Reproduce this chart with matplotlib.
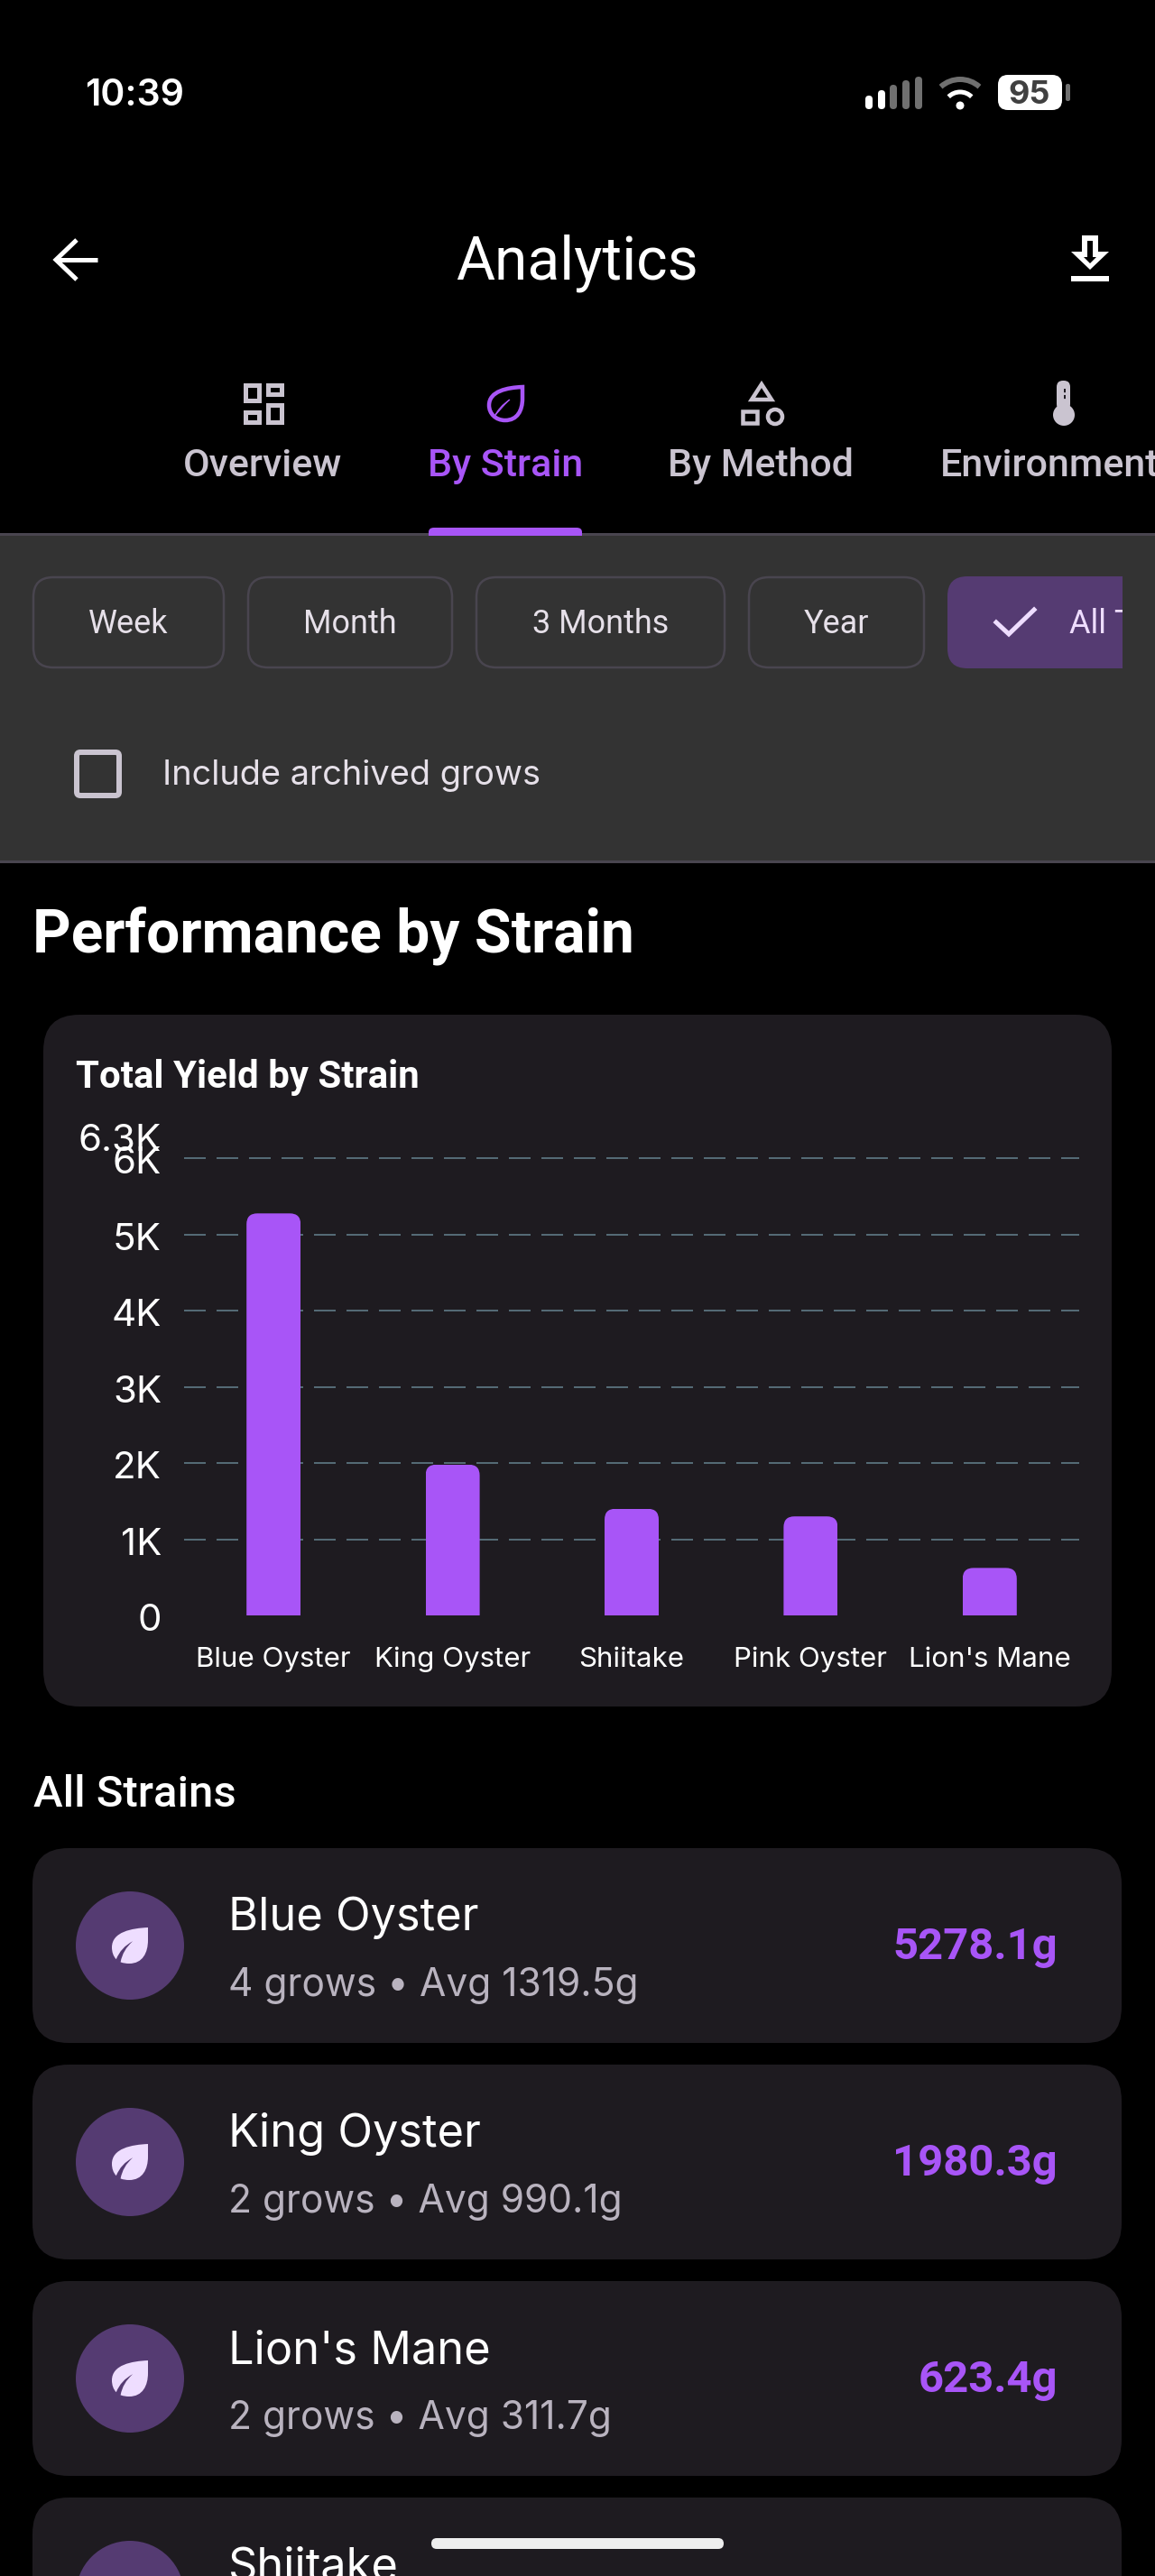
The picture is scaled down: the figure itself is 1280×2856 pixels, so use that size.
import matplotlib
matplotlib.use("Agg")
import matplotlib.pyplot as plt
from matplotlib.patches import FancyBboxPatch, Rectangle, Circle, Arc, Polygon, PathPatch
from matplotlib.path import Path
from matplotlib.transforms import ScaledTranslation

W, H = 1280, 2856

# ---- chart data ----
bar_strains = ["Blue Oyster", "King Oyster", "Shiitake", "Pink Oyster", "Lion's Mane"]
bar_yields = [5278.1, 1980.3, 1400, 1300, 623.4]
y_ticks = [0, 1000, 2000, 3000, 4000, 5000, 6000, 6300]
y_tick_labels = ["0", "1K", "2K", "3K", "4K", "5K", "6K", "6.3K"]
grid_values = [1000, 2000, 3000, 4000, 5000, 6000]

# ---- list rows ----
row_names = ["Blue Oyster", "King Oyster", "Lion's Mane"]
row_grows = [4, 2, 2]
row_avgs = ["1319.5g", "990.1g", "311.7g"]
row_totals = ["5278.1g", "1980.3g", "623.4g"]
next_row_name = "Shiitake"

tab_names = ["Overview", "By Strain", "By Method", "Environment"]
chip_names = ["Week", "Month", "3 Months", "Year"]

PURPLE = "#a855f7"
MUTED = "#cac4d0"
CARD = "#1e1b20"
OUTLINE = "#49454f"
CONTAINER = "#553b72"
ON_CONTAINER = "#eeddff"

plt.rcParams["lines.scale_dashes"] = False

fig = plt.figure(figsize=(W / 100, H / 100), dpi=100, facecolor="black")
ui = fig.add_axes([0, 0, 1, 1])
ui.set_xlim(0, W)
ui.set_ylim(H, 0)
ui.axis("off")


def px(v):
    return v * 0.72


def txt(x, y, s, size, color="white", family="Roboto", weight="normal", ha="left", va="baseline"):
    return ui.text(x, y, s, fontsize=px(size), color=color, family=family, weight=weight, ha=ha, va=va)


def rrect(x0, y0, x1, y1, r, fc="none", ec="none", lw=0, z=2):
    p = FancyBboxPatch((x0 + r, y0 + r), x1 - x0 - 2 * r, y1 - y0 - 2 * r,
                       boxstyle="round,pad=%f,rounding_size=%f" % (r, r),
                       fc=fc, ec=ec, lw=px(lw), zorder=z)
    ui.add_patch(p)
    return p


def leaf(x0, y0, size, fc, ec="none", lw=0, outline=False, z=3):
    if outline:
        pts = [(1, 0), (.55, .02), (0, .12), (0, .55), (0, .8), (.2, 1), (.48, 1),
               (.85, 1), (1, .7), (1, .35), (1, 0), (1, 0)]
        codes = [Path.MOVETO] + [Path.CURVE4] * 9 + [Path.LINETO, Path.CLOSEPOLY]
    else:
        pts = [(1, 0), (.55, .02), (0, .12), (0, .55), (0, .68), (.04, .8), (.12, .88),
               (.25, .55), (.58, .38), (.3, .62), (.24, .96), (.32, .99), (.4, 1), (.48, 1),
               (.85, 1), (1, .7), (1, .35), (1, 0), (1, 0)]
        codes = [Path.MOVETO] + [Path.CURVE4] * 6 + [Path.CURVE3] * 4 + [Path.CURVE4] * 6 + [Path.LINETO, Path.CLOSEPOLY]
    verts = [(x0 + a * size, y0 + b * size) for a, b in pts]
    ui.add_patch(PathPatch(Path(verts, codes), fc=fc, ec=ec, lw=px(lw), zorder=z, joinstyle="miter"))
    if outline:
        v = [(.62, .38), (.3, .58), (.14, .92), (.32, .66), (.62, .38), (.62, .38)]
        c = [Path.MOVETO, Path.CURVE3, Path.CURVE3, Path.CURVE3, Path.CURVE3, Path.CLOSEPOLY]
        ui.add_patch(PathPatch(Path([(x0 + a * size, y0 + b * size) for a, b in v], c), fc=ec, ec=ec, lw=px(1), zorder=z))


# ---- status bar ----
txt(94, 117, "10:39", 41, weight="semibold", family="Inter")
signal = [(959, 106, "white"), (973, 100, "white"), (986, 94, "#707070"), (1000, 89, "#707070"), (1014, 85, "#707070")]
for x, top, c in signal:
    rrect(x, top, x + 8, 121, 4, fc=c)
ui.add_patch(Arc((1064, 120), 64, 64, theta1=228, theta2=312, ec="#707070", lw=px(6), zorder=3))
ui.add_patch(Arc((1064, 120), 36, 36, theta1=225, theta2=315, ec="white", lw=px(5), zorder=3))
ui.add_patch(Circle((1064, 117), 4.5, fc="white", zorder=3))
rrect(1106, 83, 1177, 122, 11, fc="white")
rrect(1181, 93, 1186, 112, 2, fc="#707070")
txt(1141, 115, "95", 36, color="#404040", weight="bold", ha="center", family="Inter")

# ---- app bar ----
ui.plot([62, 108], [288, 288], color="white", lw=px(5), solid_capstyle="butt")
ui.plot([85, 62, 85], [266, 288, 310], color="white", lw=px(5), solid_joinstyle="miter", solid_capstyle="butt")
txt(639, 309.5, "Analytics", 66, ha="center")
ui.add_patch(Polygon([(1199, 261), (1217, 261), (1217, 279), (1229, 279), (1208, 299), (1187, 279), (1199, 279)], fc="white", zorder=3))
ui.add_patch(Polygon([(1205, 267), (1211, 267), (1211, 285), (1215, 285), (1208, 292), (1201, 285), (1205, 285)], fc="black", zorder=4))
ui.add_patch(Rectangle((1187, 306), 42, 6, fc="white", zorder=3))

# ---- tabs ----
tab_x = [291, 560, 843, 1042]
for i, name in enumerate(tab_names):
    c = PURPLE if i == 1 else MUTED
    txt(tab_x[i], 528, name, 43, color=c, weight="medium", ha="left" if i == 3 else "center")

for x0, y0, x1, y1 in [(269, 424, 289, 446), (294, 424, 314, 439), (269, 454, 289, 470), (294, 446, 314, 470)]:
    ui.add_patch(Rectangle((x0 + 2.5, y0 + 2.5), x1 - x0 - 5, y1 - y0 - 5, fc="none", ec=MUTED, lw=px(5), zorder=3))
leaf(542, 429, 37, "none", ec=PURPLE, lw=4.5, outline=True)
ui.add_patch(Polygon([(844, 426), (855, 443), (833, 443)], fc="none", ec=MUTED, lw=px(4.5), zorder=3))
ui.add_patch(Rectangle((823, 456), 16, 13, fc="none", ec=MUTED, lw=px(4.5), zorder=3))
ui.add_patch(Circle((859, 462), 8, fc="none", ec=MUTED, lw=px(4.5), zorder=3))
rrect(1171, 422, 1186, 455, 7, fc=MUTED)
ui.add_patch(Circle((1179, 460), 12, fc=MUTED, zorder=3))
ui.plot([1180, 1180], [431, 443], color="#201d24", lw=px(2), ls=(0, (3, 2)), zorder=4)

# ---- filter band ----
ui.add_patch(Rectangle((0, 594), W, 360, fc="#333333", zorder=1))
ui.add_patch(Rectangle((0, 591), W, 3, fc=OUTLINE, zorder=1.5))
ui.add_patch(Rectangle((0, 954), W, 3, fc=OUTLINE, zorder=1.5))
bar_top = Path([(475, 594), (475, 590), (475, 585), (481, 585), (639, 585), (645, 585), (645, 590), (645, 594), (475, 594)],
               [Path.MOVETO, Path.LINETO, Path.CURVE3, Path.CURVE3, Path.LINETO, Path.CURVE3, Path.CURVE3, Path.LINETO, Path.CLOSEPOLY])
ui.add_patch(PathPatch(bar_top, fc=PURPLE, ec="none", zorder=3))

chip_x = [(37, 248), (275, 501), (528, 803), (830, 1024)]
for (x0, x1), name in zip(chip_x, chip_names):
    rrect(x0, 640, x1, 740, 22, ec=OUTLINE, lw=2.5)
    txt((x0 + x1) / 2, 702, name, 36, color="#e6e0e9", ha="center")

clip = Rectangle((1040, 630), 204, 120, transform=ui.transData)
sel = rrect(1050, 639, 1290, 741, 22, fc=CONTAINER)
sel.set_clip_path(clip)
ui.plot([1104, 1118, 1146], [690, 703, 676], color=ON_CONTAINER, lw=px(5), solid_joinstyle="miter", zorder=3)
all_t = txt(1185, 702, "All Time", 36, color=ON_CONTAINER)
all_t.set_zorder(4)
all_t.set_clip_path(clip)
all_t.set_clip_on(True)

rrect(85, 834, 132, 882, 4, ec=MUTED, lw=6)
txt(180, 870, "Include archived grows", 38, color="#e6e0e9", family="Inter")

# ---- section title ----
txt(36, 1056, "Performance by Strain", 66, weight="bold")

# ---- chart card ----
rrect(48, 1125, 1232, 1892, 40, fc=CARD)
txt(84, 1206, "Total Yield by Strain", 42, weight="semibold")

ax = fig.add_axes([204 / W, 1 - 1791 / H, 992 / W, 532 / H])
ax.patch.set_alpha(0)
ax.set_xlim(-0.5, 4.5)
ax.set_ylim(0, 6300)
for s in ax.spines.values():
    s.set_visible(False)
ax.hlines(grid_values, -0.5, 4.5, colors="#546a75", lw=px(2), linestyles=[(0, (px(24), px(12)))], zorder=1)
bars = ax.bar(range(len(bar_yields)), bar_yields, width=60 / 198.4, color=PURPLE, zorder=2)

# bars get a rounded top through a clip path
rx = 12 / 198.4
ry = 12 / 84.44 * 1000
for b in bars:
    x0, y0, w, h = b.get_x(), b.get_y(), b.get_width(), b.get_height()
    x1, y1 = x0 + w, y0 + h
    p = Path([(x0, y0), (x0, y1 - ry), (x0, y1), (x0 + rx, y1), (x1 - rx, y1), (x1, y1), (x1, y1 - ry), (x1, y0), (x0, y0)],
             [Path.MOVETO, Path.LINETO, Path.CURVE3, Path.CURVE3, Path.LINETO, Path.CURVE3, Path.CURVE3, Path.LINETO, Path.CLOSEPOLY])
    b.set_clip_path(p, ax.transData)

ax.set_yticks(y_ticks)
ax.set_yticklabels(y_tick_labels, fontsize=px(42), color="white", family="Inter")
ax.set_xticks(range(len(bar_strains)))
ax.set_xticklabels(bar_strains, fontsize=px(31.3), color="white", family="Inter")
ax.tick_params(axis="y", length=0, pad=px(25))
ax.tick_params(axis="x", length=0, pad=px(35))
shift = ScaledTranslation(0, -2 / 100, fig.dpi_scale_trans)
for lab in ax.get_yticklabels():
    lab.set_transform(lab.get_transform() + shift)

# ---- list of strains ----
txt(37, 2003, "All Strains", 49, weight="medium")
for i in range(4):
    top = 2049 + 240 * i
    rrect(36, top, 1243, top + 216, 40, fc=CARD)
    ui.add_patch(Circle((144, top + 108), 60, fc=CONTAINER, zorder=3))
    if i < 3:
        leaf(124, top + 88, 40, ON_CONTAINER, z=4)
        txt(253, top + 91.5, row_names[i], 50.5, family="Inter")
        txt(253, top + 163.5, "%d grows • Avg %s" % (row_grows[i], row_avgs[i]), 42.5, color="#b9b3bf", family="Inter")
        txt(1172, top + 123.5, row_totals[i], 49, color=PURPLE, weight="bold", ha="right")
    else:
        txt(253, top + 91.5, next_row_name, 50.5, family="Inter")

rrect(478, 2814, 802, 2826, 6, fc="#eeeeee", z=8)

fig.savefig("out.png", dpi=100, facecolor="black")
